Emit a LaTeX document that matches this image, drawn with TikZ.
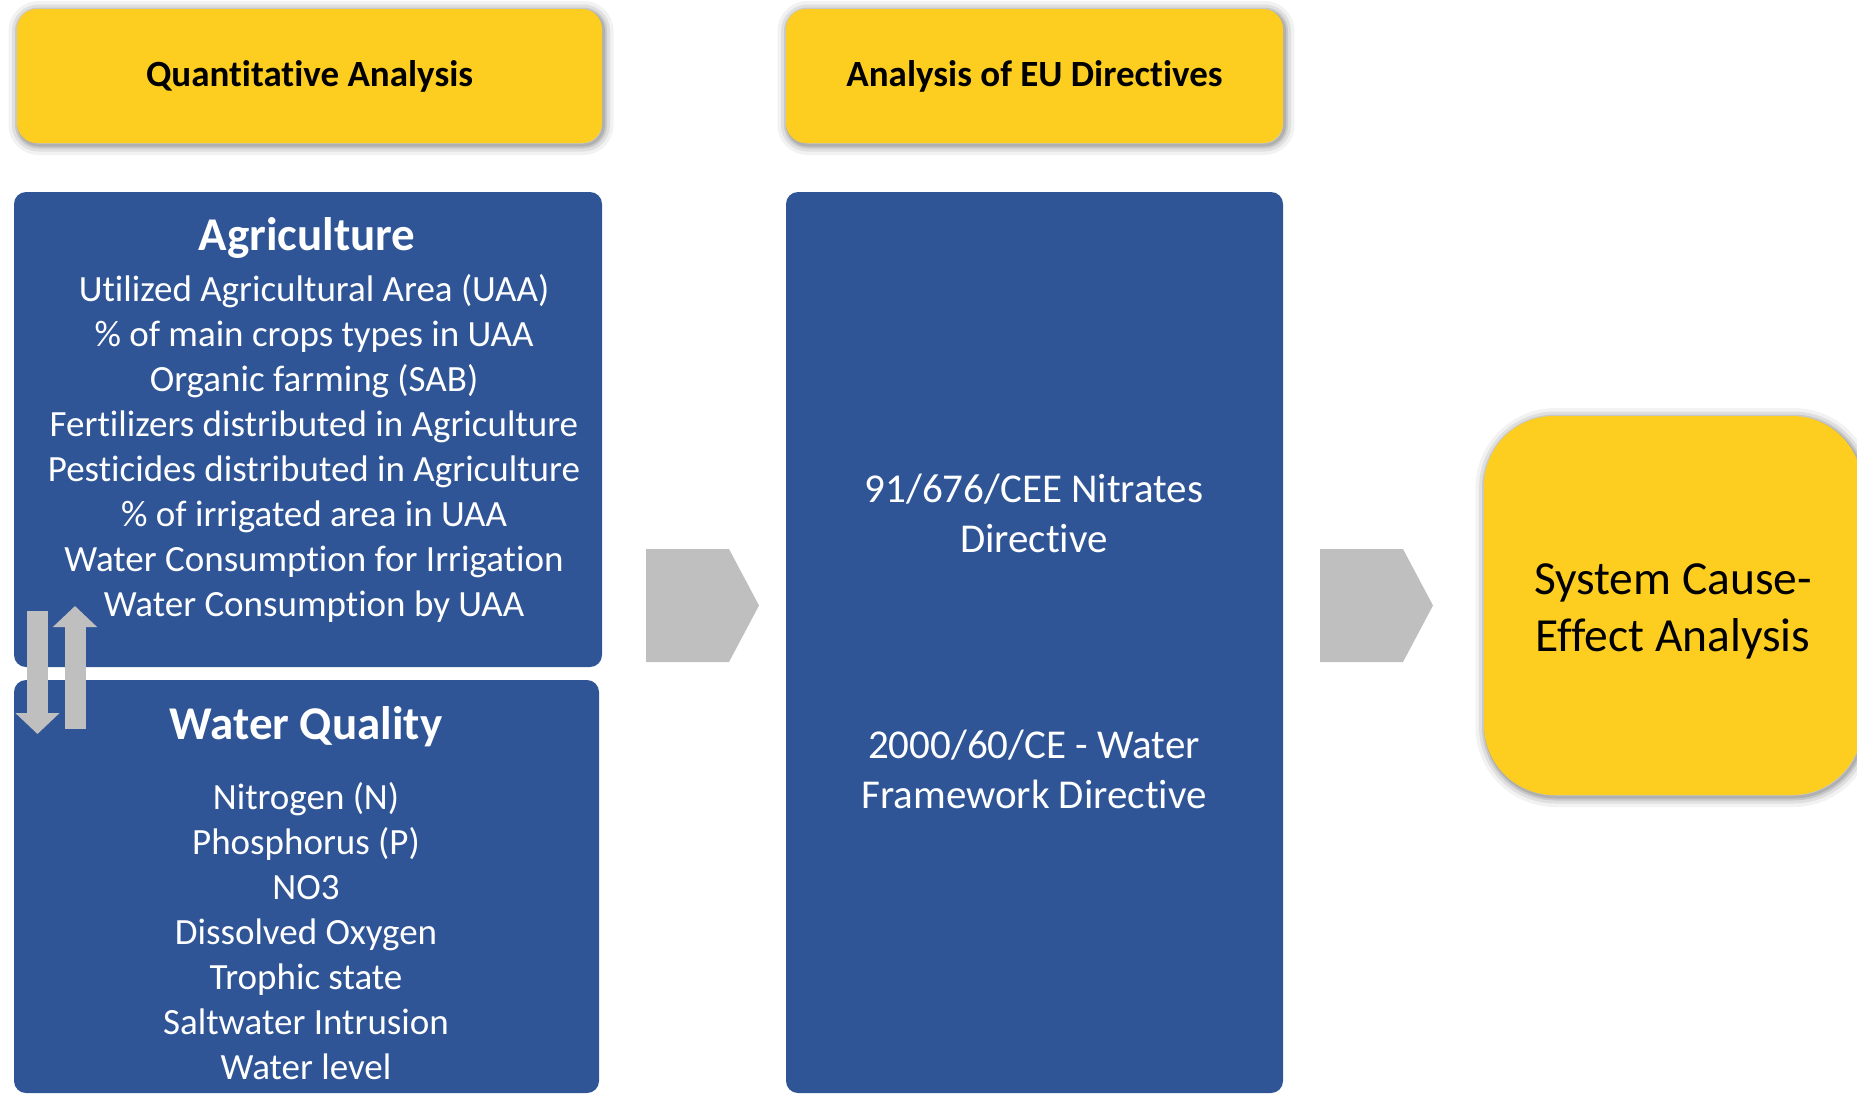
\documentclass[tikz,border=0pt]{standalone}
\usepackage{fontspec}
\setmainfont{Carlito}[Ligatures=NoCommon]
\usepackage{tikz}
\usetikzlibrary{shadows,backgrounds,arrows.meta}

\definecolor{boxyellow}{RGB}{253,206,31}
\definecolor{boxblue}{RGB}{47,85,151}
\definecolor{chevgrey}{RGB}{191,191,191}

\tikzset{
  glow/.style={
    general shadow={draw=black, line width=20pt, opacity=.05, shadow xshift=1.5pt, shadow yshift=-2pt},
    general shadow={draw=black, line width=13pt, opacity=.08, shadow xshift=1.5pt, shadow yshift=-2pt},
    general shadow={draw=black, line width=7pt, opacity=.10, shadow xshift=1.5pt, shadow yshift=-2pt},
    general shadow={draw=black, line width=3pt, opacity=.12, shadow xshift=1.5pt, shadow yshift=-2pt}},
  header/.style={fill=boxyellow, rounded corners=20pt, glow, inner sep=0pt,
    font=\bfseries\fontsize{37}{45}\selectfont},
  panel/.style={fill=boxblue, rounded corners=12pt, inner sep=0pt},
  paneltitle/.style={text=white, font=\bfseries\fontsize{47}{56}\selectfont},
  items/.style={text=white, align=center, font=\fontsize{37}{45}\selectfont},
  directive/.style={text=white, align=center, font=\fontsize{41}{50}\selectfont},
  chevron/.style={fill=chevgrey},
  updown/.style={draw=chevgrey, line width=21pt, -{Triangle[width=43pt,length=21pt]}}
}

\begin{document}
\begin{tikzpicture}[x=1pt,y=1pt]
  \useasboundingbox (0,0) rectangle (1857,-1095);

  % column headers
  \node[header, minimum width=585pt, minimum height=134pt] (quant) at (309.5,-76) {Quantitative Analysis};
  \node[header, minimum width=497pt, minimum height=134pt] (eu) at (1034.5,-76) {Analysis of EU Directives};

  % blue panels
  \node[panel, minimum width=588pt, minimum height=475pt] (agri) at (308,-429.5) {};
  \node[panel, minimum width=585pt, minimum height=413pt] (water) at (306.5,-886.5) {};
  \node[panel, minimum width=497pt, minimum height=901pt] (dir) at (1034.5,-642.5) {};

  \node[paneltitle] (agrititle) at (307,-238) {Agriculture};
  \node[items] (agrilist) at (314,-448.5) {Utilized Agricultural Area (UAA)\\
    \% of main crops types in UAA\\
    Organic farming (SAB)\\
    Fertilizers distributed in Agriculture\\
    Pesticides distributed in Agriculture\\
    \% of irrigated area in UAA\\
    Water Consumption for Irrigation\\
    Water Consumption by UAA};

  \node[paneltitle] (watertitle) at (306,-727) {Water Quality};
  \node[items] (waterlist) at (306,-931.5) {Nitrogen (N)\\
    Phosphorus (P)\\
    NO3\\
    Dissolved Oxygen\\
    Trophic state\\
    Saltwater Intrusion\\
    Water level};

  \node[directive] (nitrates) at (1034,-513.5) {91/676/CEE Nitrates\\Directive};
  \node[directive] (wfd) at (1034,-769.5) {2000/60/CE - Water\\Framework Directive};

  % final step
  \node[header, rounded corners=70pt, minimum width=378pt, minimum height=379pt] (cause) at (1673,-605.5) {};
  \node[align=center, font=\fontsize{47.5}{57}\selectfont] (causetext) at (1673,-611.5) {System Cause-\\Effect Analysis};

  % chevrons between the columns
  \foreach \x in {646,1320}
    \fill[chevron] (\x,-549) -- ++(83,0) -- ++(30,-56.5) -- ++(-30,-56.5) -- ++(-83,0) -- cycle;

  % up/down link between agriculture and water quality
  \coordinate (downfrom) at (37.5,-611);
  \coordinate (downto) at (37.5,-734);
  \coordinate (upfrom) at (75,-729);
  \coordinate (upto) at (75,-606);
  \draw[updown] (downfrom) -- (downto);
  \draw[updown] (upfrom) -- (upto);
\end{tikzpicture}
\end{document}
